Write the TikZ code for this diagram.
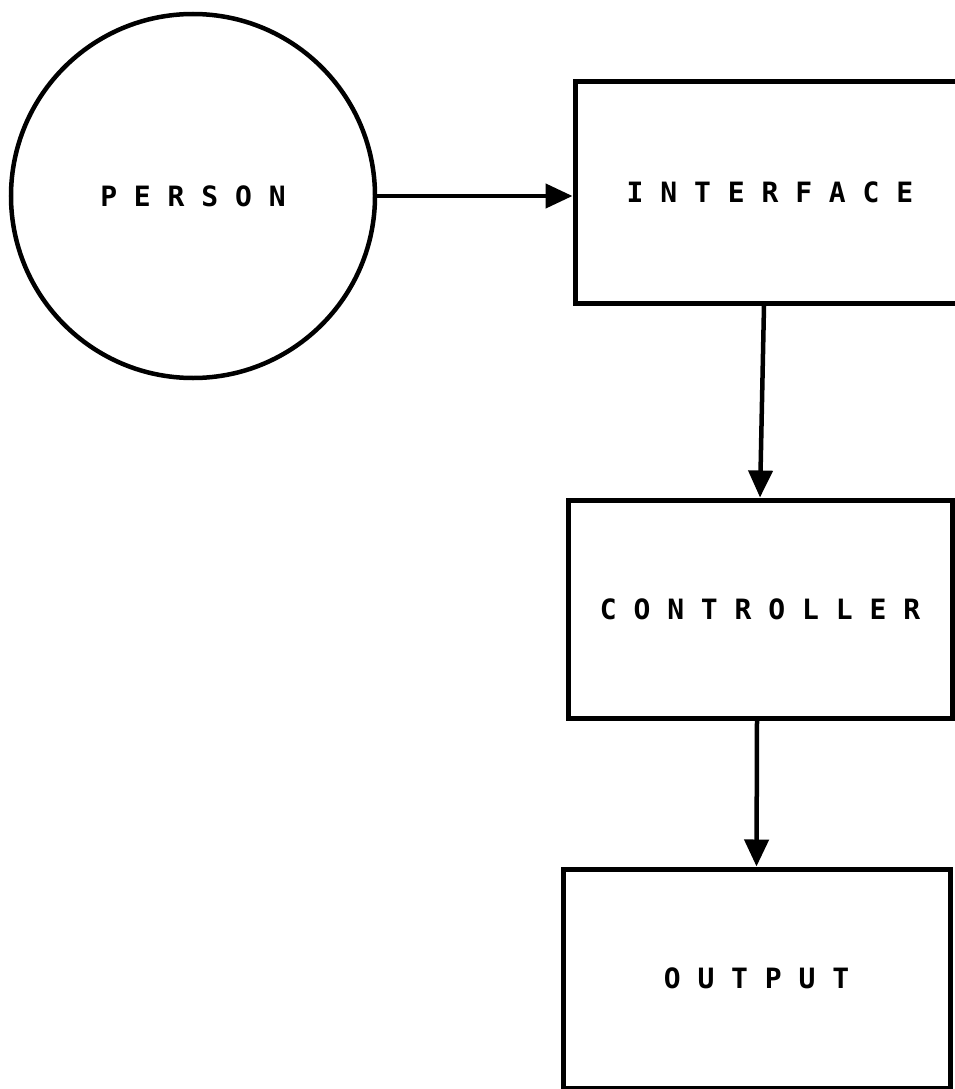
\documentclass[tikz,border=0pt]{standalone}
\usepackage{fontspec}
\setmonofont{DejaVu Sans Mono}
\usetikzlibrary{arrows.meta}
\tikzset{
  lbl/.style={font=\ttfamily\bfseries\fontsize{28}{32}\selectfont},
  blk/.style={draw, line width=5pt, rectangle, inner sep=0pt, lbl},
  who/.style={draw, line width=4.5pt, circle, inner sep=0pt, minimum size=364pt, lbl},
  flow/.style={line width=4.5pt, -{Triangle[length=27pt,width=24pt]}}
}
\begin{document}
\begin{tikzpicture}[x=1pt,y=-1pt]
  \useasboundingbox (0,0) rectangle (955,1089);
  \fill[white] (0,0) rectangle (955,1089);
  % source and processing chain
  \node[who] (person) at (193,196) {P E R S O N};
  \node[blk, minimum width=390pt, minimum height=221pt] (interface) at (770,192.5) {I N T E R F A C E};
  \node[blk, minimum width=384pt, minimum height=218pt] (controller) at (760,609) {C O N T R O L L E R};
  \node[blk, minimum width=387pt, minimum height=219pt] (output) at (756.5,978.5) {O U T P U T};
  % connectors
  \draw[flow] (person.east) -- (person.east -| interface.west);
  \draw[flow] ([xshift=-6pt]interface.south) -- (controller.north);
  \draw[flow] ([xshift=-3pt]controller.south) -- (output.north);
\end{tikzpicture}
\end{document}
